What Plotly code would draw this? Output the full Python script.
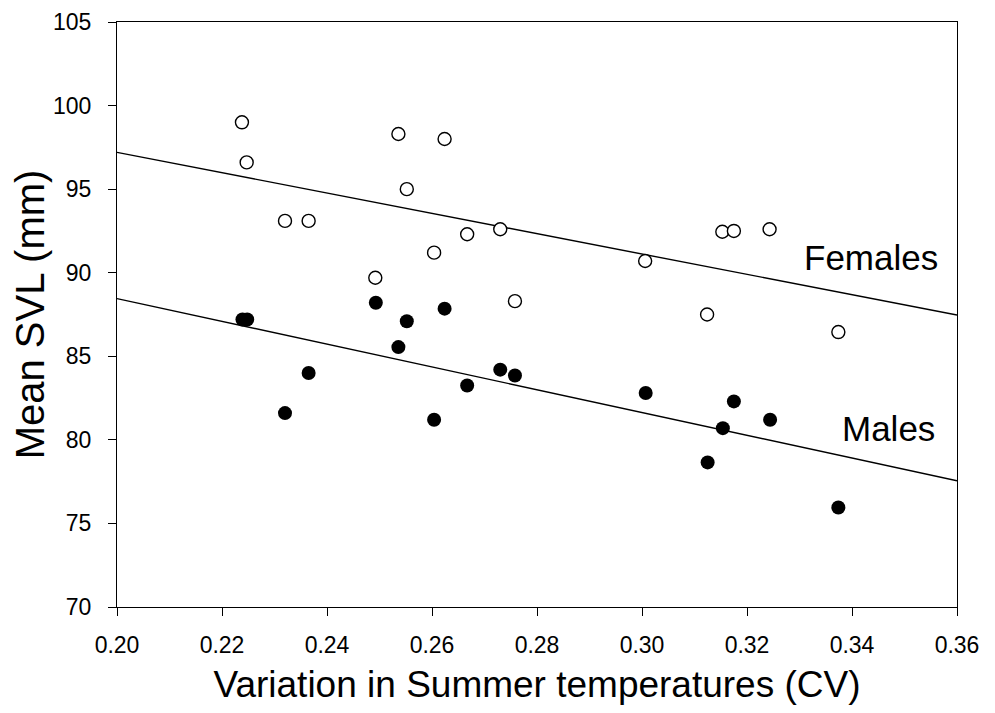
import plotly.graph_objects as go

# Data
cv_female = [0.2238, 0.2247, 0.2320, 0.2365, 0.2492, 0.2536, 0.2552, 0.2604, 0.2624,
             0.2667, 0.2730, 0.2758, 0.3006, 0.3124, 0.3153, 0.3175, 0.3243, 0.3374]
svl_female = [99.0, 96.6, 93.1, 93.1, 89.7, 98.3, 95.0, 91.2, 98.0,
              92.3, 92.6, 88.3, 90.7, 87.5, 92.45, 92.5, 92.6, 86.45]

cv_male = [0.2239, 0.2248, 0.2320, 0.2365, 0.2493, 0.2536, 0.2552, 0.2604, 0.2624,
           0.2667, 0.2730, 0.2758, 0.3007, 0.3125, 0.3154, 0.3175, 0.3244, 0.3374]
svl_male = [87.2, 87.2, 81.6, 84.0, 88.2, 85.55, 87.1, 81.2, 87.85,
            83.25, 84.2, 83.85, 82.8, 78.65, 80.7, 82.3, 81.2, 75.95]

fit_x = [0.20, 0.36]
fit_female = [97.2, 87.47]
fit_male = [88.45, 77.55]

x_ticks = [0.20, 0.22, 0.24, 0.26, 0.28, 0.30, 0.32, 0.34, 0.36]
y_ticks = [70, 75, 80, 85, 90, 95, 100, 105]

FONT = "Liberation Sans, Arial, sans-serif"

fig = go.Figure()
fig.add_trace(go.Scatter(x=fit_x, y=fit_female, mode="lines",
                         line=dict(color="black", width=1.4), showlegend=False))
fig.add_trace(go.Scatter(x=fit_x, y=fit_male, mode="lines",
                         line=dict(color="black", width=1.4), showlegend=False))
fig.add_trace(go.Scatter(x=cv_female, y=svl_female, mode="markers", name="Females",
                         marker=dict(symbol="circle", size=13, color="white",
                                     line=dict(color="black", width=1.4)),
                         showlegend=False))
fig.add_trace(go.Scatter(x=cv_male, y=svl_male, mode="markers", name="Males",
                         marker=dict(symbol="circle", size=14, color="black",
                                     line=dict(color="black", width=0)),
                         showlegend=False))

fig.add_annotation(x=0.3568, y=90.9, text="Females", showarrow=False,
                   xanchor="right", yanchor="middle",
                   font=dict(family=FONT, size=35, color="black"))
fig.add_annotation(x=0.3562, y=80.7, text="Males", showarrow=False,
                   xanchor="right", yanchor="middle",
                   font=dict(family=FONT, size=35, color="black"))

fig.update_layout(
    width=979, height=697,
    margin=dict(l=109, r=30, t=14, b=98),
    paper_bgcolor="white", plot_bgcolor="white",
    font=dict(family=FONT, color="black"),
    xaxis=dict(range=[0.20, 0.36], tickvals=x_ticks,
               ticktext=[f"{v:.2f}" for v in x_ticks],
               automargin=False,
               showgrid=False, zeroline=False,
               showline=True, linecolor="black", linewidth=1.3, mirror=True,
               ticks="outside", ticklen=8, tickwidth=1.3, tickcolor="black",
               tickfont=dict(size=23, family=FONT),
               ticklabelstandoff=9,
               title=dict(text="Variation in Summer temperatures (CV)",
                          font=dict(size=37, family=FONT), standoff=16)),
    yaxis=dict(range=[70, 105], tickvals=y_ticks,
               automargin=False,
               showgrid=False, zeroline=False,
               showline=True, linecolor="black", linewidth=1.3, mirror=True,
               ticks="outside", ticklen=8, tickwidth=1.3, tickcolor="black",
               tickfont=dict(size=23, family=FONT),
               ticklabelstandoff=12,
               title=dict(text="Mean SVL (mm)",
                          font=dict(size=40, family=FONT), standoff=10)),
)

fig.write_html("out.html")
